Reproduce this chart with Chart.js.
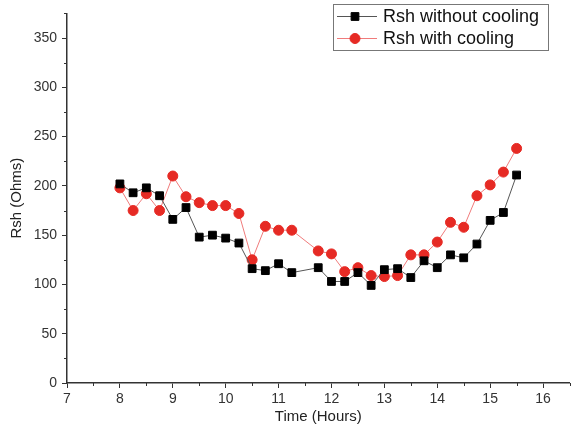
<!DOCTYPE html>
<html>
<head>
<meta charset="utf-8">
<script src="https://cdn.jsdelivr.net/npm/chart.js@4.4.0/dist/chart.umd.min.js"></script>
<style>
  html, body { margin: 0; padding: 0; background: #fff; }
  #wrap { width: 576px; height: 432px; }
</style>
</head>
<body>
<div id="wrap"><canvas id="rsh" width="576" height="432"></canvas></div>
<script>
// measurement times (hours of day)
var hours = [8, 8.25, 8.5, 8.75, 9, 9.25, 9.5, 9.75, 10, 10.25, 10.5, 10.75, 11, 11.25,
             11.75, 12, 12.25, 12.5, 12.75, 13, 13.25, 13.5, 13.75, 14, 14.25, 14.5, 14.75, 15, 15.25, 15.5];
// shunt resistance, Ohms
var rshWithout = [202, 193, 198, 190, 166, 178, 148, 150, 147, 142, 116, 114, 121, 112,
                  117, 103, 103, 112, 99, 115, 116, 107, 124, 117, 130, 127, 141, 165, 173, 211];
var rshWith = [198, 175, 192, 175, 210, 189, 183, 180, 180, 172, 125, 159, 155, 155,
               134, 131, 113, 117, 109, 108, 109, 130, 130, 143, 163, 158, 190, 201, 214, 238];

var xTicks = [7, 8, 9, 10, 11, 12, 13, 14, 15, 16];
var xMinor = [7.5, 8.5, 9.5, 10.5, 11.5, 12.5, 13.5, 14.5, 15.5, 16.5];
var yTicks = [0, 50, 100, 150, 200, 250, 300, 350];
var yMinor = [25, 75, 125, 175, 225, 275, 325, 375];

var seriesNames = ['Rsh without cooling', 'Rsh with cooling'];
var FONT = "'Liberation Sans', Arial, sans-serif";
var AXIS = '#333';

function toPoints(ys) {
  return hours.map(function (h, i) { return { x: h, y: ys[i] }; });
}

// half-step ticks that Chart.js has no option for
var minorTicks = {
  id: 'minorTicks',
  afterDraw: function (chart) {
    var ctx = chart.ctx, xs = chart.scales.x, ys = chart.scales.y, a = chart.chartArea;
    ctx.save();
    ctx.strokeStyle = AXIS;
    ctx.lineWidth = 1;
    ctx.beginPath();
    xMinor.forEach(function (v) {
      var px = Math.round(xs.getPixelForValue(v)) + 0.5;
      ctx.moveTo(px, a.bottom);
      ctx.lineTo(px, a.bottom + 3);
    });
    yMinor.forEach(function (v) {
      var py = Math.round(ys.getPixelForValue(v)) + 0.5;
      ctx.moveTo(a.left, py);
      ctx.lineTo(a.left - 3, py);
    });
    ctx.stroke();
    ctx.restore();
  }
};

// boxed legend with a line through each marker
var boxLegend = {
  id: 'boxLegend',
  afterDraw: function (chart) {
    var ctx = chart.ctx;
    var bx = 333, by = 4, bw = 215, bh = 46;
    ctx.save();
    ctx.fillStyle = '#fff';
    ctx.fillRect(bx, by, bw, bh);
    ctx.strokeStyle = '#777';
    ctx.lineWidth = 1;
    ctx.strokeRect(bx + 0.5, by + 0.5, bw, bh);
    ctx.font = '18px ' + FONT;
    ctx.textBaseline = 'middle';
    chart.data.datasets.forEach(function (ds, i) {
      var y = by + 12 + i * 22;
      ctx.strokeStyle = ds.borderColor;
      ctx.lineWidth = 1;
      ctx.beginPath();
      ctx.moveTo(bx + 4, y + 0.5);
      ctx.lineTo(bx + 44, y + 0.5);
      ctx.stroke();
      ctx.fillStyle = ds.pointBackgroundColor;
      ctx.strokeStyle = ds.pointBorderColor;
      Chart.helpers.drawPoint(ctx, {
        pointStyle: ds.pointStyle, radius: ds.pointRadius, rotation: 0, borderWidth: 1
      }, bx + 22, y + 0.5);
      ctx.fillStyle = '#111';
      ctx.fillText(ds.label, bx + 50, y + 1);
    });
    ctx.restore();
  }
};

new Chart(document.getElementById('rsh'), {
  type: 'line',
  data: {
    datasets: [
      {
        label: seriesNames[0],
        data: toPoints(rshWithout),
        borderColor: '#555',
        borderWidth: 1,
        pointStyle: 'rect',
        pointRadius: 5.5,
        pointBackgroundColor: '#000',
        pointBorderColor: '#000',
        pointBorderWidth: 1,
        tension: 0
      },
      {
        label: seriesNames[1],
        data: toPoints(rshWith),
        borderColor: '#f07b7b',
        borderWidth: 1,
        pointStyle: 'circle',
        pointRadius: 5,
        pointBackgroundColor: '#e62a24',
        pointBorderColor: '#e62a24',
        pointBorderWidth: 1,
        tension: 0
      }
    ]
  },
  options: {
    responsive: false,
    animation: false,
    devicePixelRatio: 1,
    layout: { padding: { left: 0, right: 2, top: 12, bottom: 0 } },
    plugins: {
      legend: { display: false },
      tooltip: { enabled: false }
    },
    scales: {
      x: {
        type: 'linear',
        min: 7,
        max: 16.5,
        afterBuildTicks: function (s) { s.ticks = xTicks.map(function (v) { return { value: v }; }); },
        afterFit: function (s) { s.height = 49; },
        grid: { drawOnChartArea: false, drawTicks: true, tickLength: 5, color: AXIS, lineWidth: 1 },
        border: { display: true, color: AXIS, width: 1.5 },
        ticks: { color: '#333', font: { family: FONT, size: 14 }, padding: 3, maxRotation: 0 },
        title: { display: true, text: 'Time (Hours)', color: '#222', font: { family: FONT, size: 15 }, padding: { top: 0, bottom: 6 } }
      },
      y: {
        type: 'linear',
        min: 0,
        max: 375,
        afterBuildTicks: function (s) { s.ticks = yTicks.map(function (v) { return { value: v }; }); },
        afterFit: function (s) { s.width = 67; },
        grid: { drawOnChartArea: false, drawTicks: true, tickLength: 5, color: AXIS, lineWidth: 1 },
        border: { display: true, color: AXIS, width: 1.5 },
        ticks: { color: '#333', font: { family: FONT, size: 14 }, padding: 5 },
        title: { display: true, text: 'Rsh (Ohms)', color: '#222', font: { family: FONT, size: 15 }, padding: { top: 8, bottom: 0 } }
      }
    }
  },
  plugins: [minorTicks, boxLegend]
});
</script>
</body>
</html>
